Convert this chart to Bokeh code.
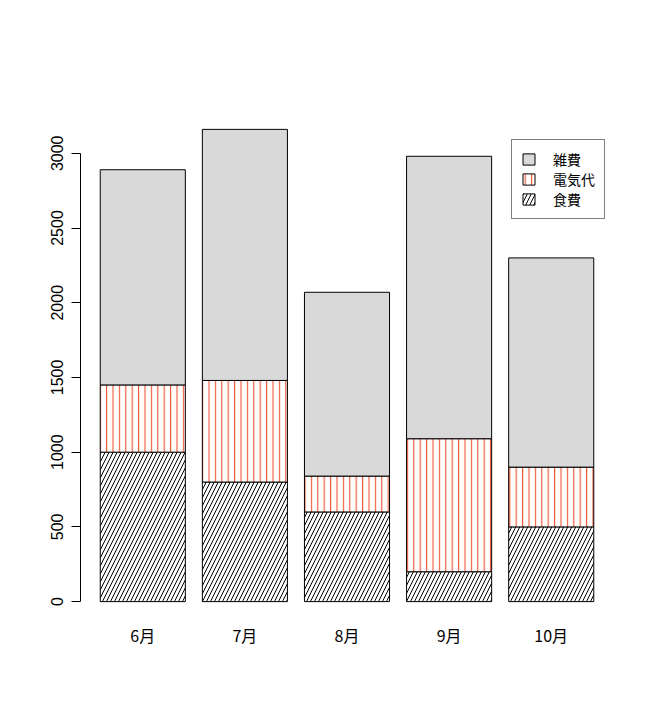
from bokeh.plotting import figure
from bokeh.models import Range1d, FixedTicker, Legend, LegendItem, ColumnDataSource
from bokeh.embed import file_html
from bokeh.resources import INLINE

months = ["6月", "7月", "8月", "9月", "10月"]
food = [1000, 800, 600, 200, 500]          # 食費
electric = [450, 680, 240, 890, 400]       # 電気代
misc = [1440, 1680, 1230, 1890, 1400]      # 雑費
y_ticks = [0, 500, 1000, 1500, 2000, 2500, 3000]

n = len(months)
centers = [0.7 + 1.2 * i for i in range(n)]
lvl1 = food
lvl2 = [a + b for a, b in zip(food, electric)]
lvl3 = [a + b for a, b in zip(lvl2, misc)]

xl, xr = 0.2, 1.2 * n
xpad = (xr - xl) * 0.04
ymax = max(lvl3)
ypad = ymax * 0.04

p = figure(width=655, height=705, output_backend="svg", toolbar_location=None,
           x_range=Range1d(xl - xpad, xr + xpad), y_range=Range1d(-ypad, ymax + ypad),
           min_border_left=80, min_border_right=42, min_border_top=110, min_border_bottom=85)
p.outline_line_color = None
p.grid.visible = False
p.background_fill_color = "white"
p.border_fill_color = "white"

src = ColumnDataSource(dict(x=centers, b0=[0] * n, t1=lvl1, t2=lvl2, t3=lvl3))

r_food = p.vbar(x="x", bottom="b0", top="t1", width=1.0, source=src,
                fill_color="white", line_color="black", line_width=1,
                hatch_pattern="/", hatch_color="black", hatch_scale=8, hatch_weight=1)
r_el = p.vbar(x="x", bottom="t1", top="t2", width=1.0, source=src,
              fill_color="white", line_color="black", line_width=1,
              hatch_pattern="|", hatch_color="#ef5b3c", hatch_scale=6.4, hatch_weight=1.2)
r_misc = p.vbar(x="x", bottom="t2", top="t3", width=1.0, source=src,
                fill_color="#d9d9d9", line_color="black", line_width=1)

# y axis
ya = p.yaxis[0]
ya.ticker = FixedTicker(ticks=y_ticks)
ya.bounds = (y_ticks[0], y_ticks[-1])
ya.major_label_orientation = "vertical"
ya.major_tick_out = 9
ya.major_tick_in = 0
ya.minor_tick_out = 0
ya.minor_tick_in = 0
ya.axis_line_color = "black"
ya.major_tick_line_color = "black"
ya.major_label_text_font = "Liberation Sans"
ya.major_label_text_font_size = "16px"
ya.major_label_text_color = "black"
ya.major_label_standoff = 8

# x axis (labels only)
xa = p.xaxis[0]
xa.ticker = FixedTicker(ticks=centers)
xa.major_label_overrides = {c: m for c, m in zip(centers, months)}
xa.axis_line_color = None
xa.major_tick_line_color = None
xa.minor_tick_line_color = None
xa.major_tick_out = 0
xa.major_tick_in = 0
xa.major_label_standoff = 2
xa.major_label_text_font = "Noto Sans CJK JP"
xa.major_label_text_font_size = "16px"
xa.major_label_text_color = "black"

legend = Legend(items=[LegendItem(label="雑費", renderers=[r_misc]),
                       LegendItem(label="電気代", renderers=[r_el]),
                       LegendItem(label="食費", renderers=[r_food])],
                location=(431, 401))
legend.padding = 9
legend.margin = 0
legend.spacing = 0
legend.glyph_width = 15
legend.glyph_height = 14
legend.label_height = 15
legend.label_standoff = 17
legend.label_text_font = "Noto Sans CJK JP"
legend.label_text_font_size = "14px"
legend.label_text_color = "black"
legend.border_line_color = "black"
legend.border_line_width = 1
legend.background_fill_color = "white"
legend.background_fill_alpha = 1
p.add_layout(legend, "center")

open("out.html", "w").write(file_html(p, INLINE))
